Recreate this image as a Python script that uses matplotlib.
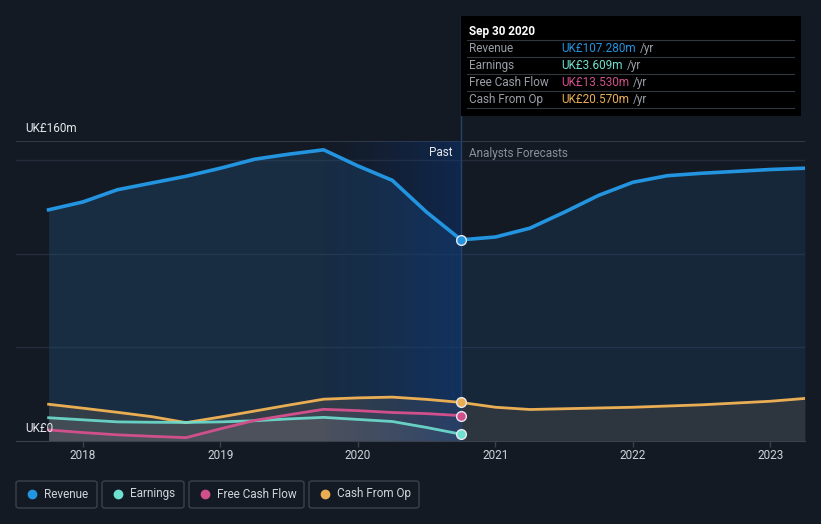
import numpy as np
import matplotlib.pyplot as plt
from matplotlib.patches import FancyBboxPatch, Rectangle
from matplotlib.lines import Line2D

plt.rcParams['font.family'] = ['Roboto', 'DejaVu Sans']

# past data (decimal years, UK£m)
past_t = [2017.75, 2018.0, 2018.25, 2018.5, 2018.75, 2019.0, 2019.25,
          2019.5, 2019.75, 2020.0, 2020.25, 2020.5, 2020.75]
revenue = [123.3, 127.5, 134.0, 137.6, 141.2, 145.5, 150.3,
           153.0, 155.3, 146.7, 139.0, 122.0, 107.28]
earnings = [12.4, 11.3, 10.2, 10.0, 9.9, 10.2, 10.8,
            11.8, 12.6, 11.5, 10.4, 7.2, 3.609]
fcf = [5.9, 4.5, 3.3, 2.5, 1.8, 6.5, 11.0,
       14.0, 16.9, 16.2, 15.2, 14.6, 13.53]
cfo = [19.6, 17.5, 15.3, 13.0, 9.8, 12.8, 16.0,
       19.2, 22.3, 23.0, 23.4, 22.2, 20.57]

# analyst forecasts
fc_rev_t = [2020.75, 2021.0, 2021.25, 2021.5, 2021.75, 2022.0, 2022.25, 2022.5, 2023.0, 2023.25]
fc_rev = [107.28, 108.8, 113.5, 122.0, 131.0, 138.0, 141.5, 142.8, 144.8, 145.5]
fc_cfo_t = [2020.75, 2021.0, 2021.25, 2022.0, 2022.5, 2023.0, 2023.25]
fc_cfo = [20.57, 18.0, 16.8, 18.0, 19.3, 21.2, 22.7]

years = [2018, 2019, 2020, 2021, 2022, 2023]

series_names = ['Revenue', 'Earnings', 'Free Cash Flow', 'Cash From Op']
series_colors = ['#2394df', '#6ee0d0', '#d0508c', '#e9ae54']
tip_values = ['UK£107.280m', 'UK£3.609m', 'UK£13.530m', 'UK£20.570m']

BG = '#141a24'
W, H = 821, 524

fig = plt.figure(figsize=(W / 100, H / 100), dpi=100, facecolor=BG)


def fx(x):
    return x / W


def fy(y):
    return 1 - y / H


ax = fig.add_axes([fx(16), fy(441), (805 - 16) / W, 300 / H])
ax.set_facecolor(BG)
x0, x1 = 2017.513, 2023.251

# gridlines
for g in [50, 100, 150]:
    ax.axhline(g, color='#252d3a', lw=1, zorder=0)
ax.axhline(160, color='#3a404c', lw=1.2, zorder=0)

# fills
ax.fill_between(past_t, revenue, 0, color='#1f4b74', alpha=0.38, lw=0, zorder=1)
ax.fill_between(fc_rev_t, fc_rev, 0, color='#1f4b74', alpha=0.28, lw=0, zorder=1)
ax.fill_between(past_t, cfo, 0, color='#55524e', alpha=0.45, lw=0, zorder=1.2)
ax.fill_between(past_t, fcf, 0, color='#6a5a70', alpha=0.25, lw=0, zorder=1.2)
ax.fill_between(past_t, earnings, 0, color='#707a80', alpha=0.25, lw=0, zorder=1.2)
ax.fill_between(fc_cfo_t, fc_cfo, 0, color='#4a4844', alpha=0.45, lw=0, zorder=1.2)

# highlight band for last past year
grad = np.zeros((2, 256, 4))
grad[..., 0] = 0.04
grad[..., 1] = 0.22
grad[..., 2] = 0.50
grad[..., 3] = np.linspace(0.05, 0.55, 256) ** 1.3
ax.imshow(grad, extent=[2019.75, 2020.75, 0, 160], aspect='auto',
          zorder=1.5, interpolation='bilinear')
ax.set_xlim(x0, x1)
ax.set_ylim(0, 160)

# lines
ax.plot(past_t, cfo, color=series_colors[3], lw=2, zorder=3)
ax.plot(past_t, earnings, color=series_colors[1], lw=2, zorder=3, alpha=0.9)
ax.plot(past_t, fcf, color=series_colors[2], lw=2, zorder=3)
ax.plot(past_t, revenue, color=series_colors[0], lw=2.6, zorder=4)
ax.plot(fc_rev_t, fc_rev, color=series_colors[0], lw=2.6, zorder=4)
ax.plot(fc_cfo_t, fc_cfo, color=series_colors[3], lw=2, zorder=3)

# end markers
for vals, c in zip([revenue, earnings, fcf, cfo], series_colors):
    ax.plot(past_t[-1], vals[-1], 'o', ms=7, mfc=c, mec='#e8e8f0', mew=1, zorder=6)

ax.axvline(2020.75, color='#24426a', lw=1, zorder=2)

# axes styling
for s in ['top', 'right', 'left']:
    ax.spines[s].set_visible(False)
ax.spines['bottom'].set_color('#3a404c')
ax.set_yticks([])
ax.set_xticks(years)
ax.set_xticklabels([str(y) for y in years])
ax.tick_params(axis='x', colors='#3a404c', length=4, width=1, labelcolor='#d0d4da',
               labelsize=8.5, pad=1.5)

fig.text(fx(25), fy(129), 'UK£160m', color='#e6e8ec', fontsize=8.5, va='center')
fig.text(fx(25), fy(429), 'UK£0', color='#e6e8ec', fontsize=8.5, va='center', zorder=10)
fig.text(fx(453), fy(153), 'Past', color='#e6e8ec', fontsize=8.5, ha='right', va='center')
fig.text(fx(469), fy(153), 'Analysts Forecasts', color='#8a8f98', fontsize=8.5, va='center')

# vertical divider spanning up to the tooltip
fig.add_artist(Line2D([fx(461), fx(461)], [fy(16), fy(141)], color='#24426a', lw=1))

# tooltip
fig.add_artist(Rectangle((fx(461), fy(116)), (801 - 461) / W, 100 / H,
                         facecolor='#000000', edgecolor='none', zorder=8))
fig.text(fx(469), fy(31), 'Sep 30 2020', color='#ffffff', fontsize=8.5,
         fontweight='bold', va='center', zorder=9)
renderer = fig.canvas.get_renderer()
for i, (name, c, v) in enumerate(zip(series_names, series_colors, tip_values)):
    yl = 40 + 17 * i
    fig.add_artist(Line2D([fx(467), fx(794)], [fy(yl), fy(yl)], color='#33373f', lw=0.8, zorder=9))
    yt = yl + 8.5
    fig.text(fx(469), fy(yt), name, color='#9a9ea6', fontsize=8.5, va='center', zorder=9)
    t = fig.text(fx(561), fy(yt), v, color=c, fontsize=8.5, va='center', zorder=9)
    bb = t.get_window_extent(renderer)
    fig.text(bb.x1 / W + fx(4), fy(yt), '/yr', color='#9a9ea6', fontsize=8.5, va='center', zorder=9)
fig.add_artist(Line2D([fx(467), fx(794)], [fy(108), fy(108)], color='#33373f', lw=0.8, zorder=9))

# legend boxes
boxes = [(16, 97), (102, 184), (189, 304), (309, 419)]
for (bx0, bx1), name, c in zip(boxes, series_names, series_colors):
    fig.add_artist(FancyBboxPatch((fx(bx0), fy(508)), (bx1 - bx0) / W, 27 / H,
                                  boxstyle='round,pad=0,rounding_size=0.004',
                                  facecolor=BG, edgecolor='#3c414c', lw=1))
    fig.add_artist(Line2D([fx(bx0 + 16)], [fy(494)], marker='o', ms=6,
                          color=c, lw=0))
    fig.text(fx(bx0 + 28), fy(494), name, color='#d0d4da', fontsize=8.5, va='center')

fig.savefig('out.png', dpi=100, facecolor=BG)
